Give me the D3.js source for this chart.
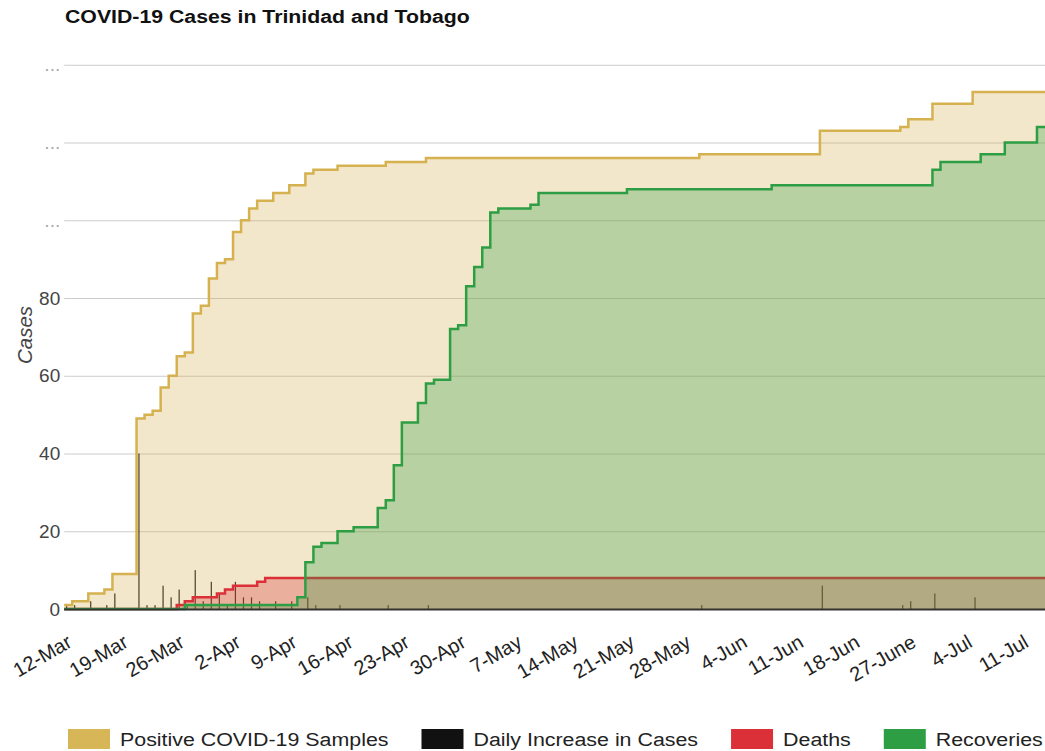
<!DOCTYPE html>
<html>
<head>
<meta charset="utf-8">
<script src="https://cdn.jsdelivr.net/npm/d3@7"></script>
<style>
  body { margin: 0; background: #fff; }
  text { font-family: Arial, "Liberation Sans", sans-serif; }
</style>
</head>
<body>
<div id="chart"></div>
<script>
// one value per reported day, 12-Mar .. 13-Jul (122 days)
let cases = [
  1,2,2,4,4,5,9,9,9,49,
  50,51,57,60,65,66,76,78,85,89,
  90,97,100,103,105,105,107,107,109,109,
  112,113,113,113,114,114,114,114,114,114,
  115,115,115,115,115,116,116,116,116,116,
  116,116,116,116,116,116,116,116,116,116,
  116,116,116,116,116,116,116,116,116,116,
  116,116,116,116,116,116,116,116,116,117,
  117,117,117,117,117,117,117,117,117,117,
  117,117,117,117,123,123,123,123,123,123,
  123,123,123,123,124,126,126,126,130,130,
  130,130,130,133,133,133,133,133,133,133,
  133,133];

let daily = [
  1,1,0,2,0,1,4,0,0,40,
  1,1,6,3,5,1,10,2,7,4,
  1,7,3,3,2,0,2,0,2,0,
  3,1,0,0,1,0,0,0,0,0,
  1,0,0,0,0,1,0,0,0,0,
  0,0,0,0,0,0,0,0,0,0,
  0,0,0,0,0,0,0,0,0,0,
  0,0,0,0,0,0,0,0,0,1,
  0,0,0,0,0,0,0,0,0,0,
  0,0,0,0,6,0,0,0,0,0,
  0,0,0,0,1,2,0,0,4,0,
  0,0,0,3,0,0,0,0,0,0,
  0,0];

let deaths = [
  0,0,0,0,0,0,0,0,0,0,
  0,0,0,0,1,2,3,3,3,4,
  5,6,6,6,7,8,8,8,8,8,
  8,8,8,8,8,8,8,8,8,8,
  8,8,8,8,8,8,8,8,8,8,
  8,8,8,8,8,8,8,8,8,8,
  8,8,8,8,8,8,8,8,8,8,
  8,8,8,8,8,8,8,8,8,8,
  8,8,8,8,8,8,8,8,8,8,
  8,8,8,8,8,8,8,8,8,8,
  8,8,8,8,8,8,8,8,8,8,
  8,8,8,8,8,8,8,8,8,8,
  8,8];

let recoveries = [
  0,0,0,0,0,0,0,0,0,0,
  0,0,0,0,0,1,1,1,1,1,
  1,1,1,1,1,1,1,1,1,3,
  12,16,17,17,20,20,21,21,21,26,
  28,37,48,48,53,58,59,59,72,73,
  83,88,93,102,103,103,103,103,104,107,
  107,107,107,107,107,107,107,107,107,107,
  108,108,108,108,108,108,108,108,108,108,
  108,108,108,108,108,108,108,108,109,109,
  109,109,109,109,109,109,109,109,109,109,
  109,109,109,109,109,109,109,109,113,115,
  115,115,115,115,117,117,117,120,120,120,
  120,124];

// a label on every 7th day
let tickLabels = ["12-Mar","19-Mar","26-Mar","2-Apr","9-Apr","16-Apr","23-Apr","30-Apr",
  "7-May","14-May","21-May","28-May","4-Jun","11-Jun","18-Jun","27-June","4-Jul","11-Jul"];

let yTicks = [0,20,40,60,80,100,120,140];
let yTickLabels = ["0","20","40","60","80","...","...","..."];

let seriesNames = ["Positive COVID-19 Samples","Daily Increase in Cases","Deaths","Recoveries"];
let seriesColors = ["#d5b150","#111111","#dc3038","#2e9e44"];

// svg attributes
let svgWidth = 1045;
let svgHeight = 751;
let plotLeft = 64.2, plotRight = 1045, plotTop = 64.75, plotBottom = 609;
let stretch = 1.15; // the picture's text is wider than it is tall

let svg = d3.select("#chart")
  .append("svg")
  .attr("width", svgWidth)
  .attr("height", svgHeight);

svg.append("rect").attr("width", svgWidth).attr("height", svgHeight).attr("fill", "#fff");

let xScale = d3.scaleLinear()
  .domain([0, cases.length])
  .range([plotLeft, plotRight]);

let yScale = d3.scaleLinear()
  .domain([0, 140])
  .range([plotBottom, plotTop]);

// title
svg.append("text")
  .attr("transform", `translate(65,23) scale(${stretch},1)`)
  .attr("font-size", 18.5).attr("font-weight", "bold").attr("fill", "#111")
  .text("COVID-19 Cases in Trinidad and Tobago");

// gridlines + y labels
let yAxis = d3.axisLeft(yScale)
  .tickValues(yTicks)
  .tickSize(-(plotRight - plotLeft))
  .tickPadding(4)
  .tickFormat((d, i) => yTickLabels[i]);

svg.append("g")
  .attr("transform", `translate(${plotLeft},0)`)
  .call(yAxis)
  .call(g => g.select(".domain").remove())
  .call(g => g.selectAll(".tick line").attr("stroke", "#ccc").attr("stroke-width", 1))
  .call(g => g.selectAll(".tick text")
    .attr("font-size", 19)
    .attr("fill", d => d > 80 ? "#aaa" : "#444"));

// y axis title
svg.append("text")
  .attr("transform", "translate(32,335) rotate(-90)")
  .attr("text-anchor", "middle")
  .attr("font-size", 20.5).attr("font-style", "italic").attr("fill", "#444")
  .text("Cases");

let plot = svg.append("g");

// daily increase bars
plot.selectAll("rect.bar")
  .data(daily)
  .enter()
  .append("rect")
  .attr("class", "bar")
  .attr("x", (d, i) => xScale(i) + 1.8)
  .attr("width", 1.2)
  .attr("y", d => yScale(d))
  .attr("height", d => yScale(0) - yScale(d))
  .attr("fill", seriesColors[1]);

function stepData(arr) {
  let pts = arr.map((v, i) => [i, v]);
  pts.push([arr.length, arr[arr.length - 1]]);
  return pts;
}

let area = d3.area()
  .curve(d3.curveStepAfter)
  .x(d => xScale(d[0]))
  .y0(yScale(0))
  .y1(d => yScale(d[1]));

let line = d3.line()
  .curve(d3.curveStepAfter)
  .x(d => xScale(d[0]))
  .y(d => yScale(d[1]));

// draw order: cases, deaths, recoveries
[[cases, 0], [deaths, 2], [recoveries, 3]].forEach(([arr, c]) => {
  plot.append("path")
    .datum(stepData(arr))
    .attr("d", area)
    .attr("fill", seriesColors[c])
    .attr("fill-opacity", 0.3);
  plot.append("path")
    .datum(stepData(arr))
    .attr("d", line)
    .attr("fill", "none")
    .attr("stroke", seriesColors[c])
    .attr("stroke-width", 2.5);
});

// baseline
svg.append("line")
  .attr("x1", plotLeft).attr("x2", plotRight)
  .attr("y1", plotBottom + 0.5).attr("y2", plotBottom + 0.5)
  .attr("stroke", "#333").attr("stroke-width", 2);

// x labels, every 7th category
svg.append("g")
  .selectAll("text")
  .data(tickLabels)
  .enter()
  .append("text")
  .attr("transform", (d, i) => `translate(${xScale(i * 7 + 0.5) + 5},646) rotate(-30)`)
  .attr("text-anchor", "end")
  .attr("font-size", 20)
  .attr("fill", "#222")
  .text(d => d);

// legend
let legend = svg.append("g").attr("transform", "translate(68,729)");
let lx = 0;
seriesNames.forEach((name, i) => {
  legend.append("rect")
    .attr("x", lx).attr("y", 0)
    .attr("width", 42).attr("height", 20)
    .attr("fill", i == 0 ? "#d6b656" : seriesColors[i]);
  let t = legend.append("text")
    .attr("transform", `translate(${lx + 52},17) scale(${stretch},1)`)
    .attr("font-size", 18.6).attr("fill", "#222")
    .text(name);
  lx += 52 + t.node().getComputedTextLength() * stretch + 33;
});
</script>
</body>
</html>
